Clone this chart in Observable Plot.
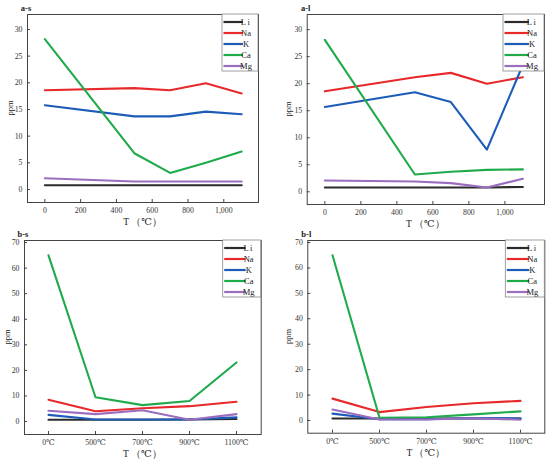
<!DOCTYPE html>
<html>
<head>
<meta charset="utf-8">
<script src="https://cdn.jsdelivr.net/npm/d3@7"></script>
<script src="https://cdn.jsdelivr.net/npm/@observablehq/plot@0.6"></script>
<style>
  body { margin: 0; background: white; }
  #wrap { position: relative; width: 550px; height: 464px; overflow: hidden; background: white; }
  #wrap svg { position: absolute; }
</style>
</head>
<body>
<div id="wrap"></div>
<script>
// ---- data ----
const temps = [0, 500, 700, 900, 1100];
const tempLabels = ["0℃", "500℃", "700℃", "900℃", "1100℃"];
const elements = ["Li", "Na", "K", "Ca", "Mg"];
const colors = ["#2b2b2b", "#e8292b", "#1d5cb6", "#1faa4b", "#9a6dbf"];

const asLi = [0.8, 0.8, 0.8, 0.8, 0.8];
const asNa = [18.6, 19.0, 18.6, 19.9, 18.0];
const asK  = [15.8, 13.7, 13.7, 14.6, 14.1];
const asCa = [28.2, 6.8, 3.1, 5.0, 7.1];
const asMg = [2.1, 1.5, 1.5, 1.5, 1.5];

const alLi = [0.8, 0.8, 0.8, 0.8, 0.9];
const alNa = [18.6, 21.2, 22.0, 20.0, 21.2];
const alK  = [15.7, 18.4, 16.6, 7.8, 23.5];
const alCa = [28.1, 3.2, 3.7, 4.05, 4.15];
const alMg = [2.1, 1.9, 1.6, 0.8, 2.4];

const bsLi = [0.7, 0.7, 0.7, 0.8, 1.0];
const bsNa = [8.5, 4.0, 5.2, 6.0, 7.7];
const bsK  = [2.6, 0.8, 0.8, 0.8, 1.6];
const bsCa = [65.0, 9.5, 6.4, 8.0, 23.1];
const bsMg = [4.2, 2.9, 4.4, 0.7, 2.9];

const blLi = [0.8, 0.8, 0.8, 0.8, 0.8];
const blNa = [8.6, 3.3, 5.3, 6.8, 7.7];
const blK  = [2.7, 0.5, 0.5, 1.0, 0.8];
const blCa = [65.0, 1.1, 1.3, 2.4, 3.6];
const blMg = [4.3, 0.4, 0.4, 0.9, 0.3];

const aTicksX = [0, 200, 400, 600, 800, 1000];
const aTicksY = [0, 5, 10, 15, 20, 25, 30];
const bTicksY = [0, 10, 20, 30, 40, 50, 60, 70];

const FONT = "Liberation Serif, DejaVu Serif, serif";

function rowsOf(series) {
  return elements.flatMap((el, i) => temps.map((t, j) => ({el, t, label: tempLabels[j], v: series[i][j]})));
}

function panel(cfg) {
  const rows = rowsOf(cfg.series);
  const W = 275, H = 232;
  const xOpt = cfg.categorical
    ? {type: "point", domain: tempLabels, padding: 0.5}
    : {type: "linear", domain: cfg.xDomain};
  const svg = Plot.plot({
    width: W, height: H,
    marginLeft: cfg.m[0], marginRight: cfg.m[1], marginTop: cfg.m[2], marginBottom: cfg.m[3],
    style: {fontFamily: FONT, fontSize: "7.8px", color: "#333", background: "white", overflow: "visible"},
    x: xOpt,
    y: {domain: cfg.yDomain},
    color: {domain: elements, range: colors},
    marks: [
      Plot.line(rows, {x: cfg.categorical ? "label" : "t", y: "v", z: "el", stroke: "el", strokeWidth: 2.1}),
      Plot.frame({stroke: "#444", strokeWidth: 1}),
      Plot.axisX(cfg.categorical ? {tickSize: -3, tickPadding: 8, label: null, stroke: "#444"}
                                 : {ticks: aTicksX, tickSize: -3, tickPadding: 8, label: null, stroke: "#444"}),
      Plot.axisY({ticks: cfg.yTicks, tickSize: -3, tickPadding: 8, label: null, stroke: "#444"})
    ]
  });
  svg.style.left = cfg.pos[0] + "px";
  svg.style.top = cfg.pos[1] + "px";
  const s = d3.select(svg);
  const fx0 = cfg.m[0], fx1 = W - cfg.m[1], fy0 = cfg.m[2], fy1 = H - cfg.m[3];
  // title
  s.append("text").attr("x", fx0 - 1).attr("y", fy0 - 3.5)
    .attr("font-family", FONT).attr("font-size", 8.5).attr("font-weight", "bold").attr("fill", "#222")
    .text(cfg.title);
  // y label
  s.append("text").attr("transform", `translate(${cfg.yLabelX},${(fy0 + fy1) / 2}) rotate(-90)`)
    .attr("text-anchor", "middle").attr("dy", "0.35em")
    .attr("font-family", FONT).attr("font-size", 8.5).attr("fill", "#222").text("ppm");
  // x label
  s.append("text").attr("x", (fx0 + fx1) / 2).attr("y", fy1 + 20).attr("dy", "0.35em")
    .attr("text-anchor", "middle")
    .attr("font-family", FONT).attr("font-size", 9.5).attr("fill", "#222").text("T （℃）");
  // legend
  const lw = cfg.legendW, lh = 57, lx = fx1 - lw, ly = fy0;
  const g = s.append("g");
  g.append("rect").attr("x", lx).attr("y", ly).attr("width", lw).attr("height", lh)
    .attr("fill", "white").attr("stroke", "#888").attr("stroke-width", 0.8);
  elements.forEach((el, i) => {
    const yy = ly + 8 + i * 11;
    g.append("line").attr("x1", lx + 1.5).attr("x2", lx + lw - 15).attr("y1", yy).attr("y2", yy)
      .attr("stroke", colors[i]).attr("stroke-width", 2.2);
    g.append("text").attr("x", lx + lw - 12).attr("y", yy).attr("dy", "0.35em")
      .attr("font-family", FONT).attr("font-size", 8.5).attr("fill", "#222").attr("stroke", "none")
      .attr("letter-spacing", el === "Li" ? "1.5px" : "0px").text(el);
  });
  document.getElementById("wrap").appendChild(svg);
}

panel({title: "a-s", series: [asLi, asNa, asK, asCa, asMg], categorical: false,
  xDomain: [-97, 1194], yDomain: [-2.44, 32.8], yTicks: aTicksY,
  m: [27, 17, 14, 30], pos: [0, 0], yLabelX: 10, legendW: 36});
panel({title: "a-l", series: [alLi, alNa, alK, alCa, alMg], categorical: false,
  xDomain: [-98, 1220], yDomain: [-2.35, 32.8], yTicks: aTicksY,
  m: [31.7, 6, 14, 28], pos: [275, 0], yLabelX: 13, legendW: 41});
panel({title: "b-s", series: [bsLi, bsNa, bsK, bsCa, bsMg], categorical: true,
  yDomain: [-5.08, 70.8], yTicks: bTicksY,
  m: [24, 14.3, 8, 30], pos: [0, 232], yLabelX: 7, legendW: 38});
panel({title: "b-l", series: [blLi, blNa, blK, blCa, blMg], categorical: true,
  yDomain: [-5.0, 70.8], yTicks: bTicksY,
  m: [32.3, 5.7, 8, 31.3], pos: [275, 232], yLabelX: 13, legendW: 39});
</script>
</body>
</html>
